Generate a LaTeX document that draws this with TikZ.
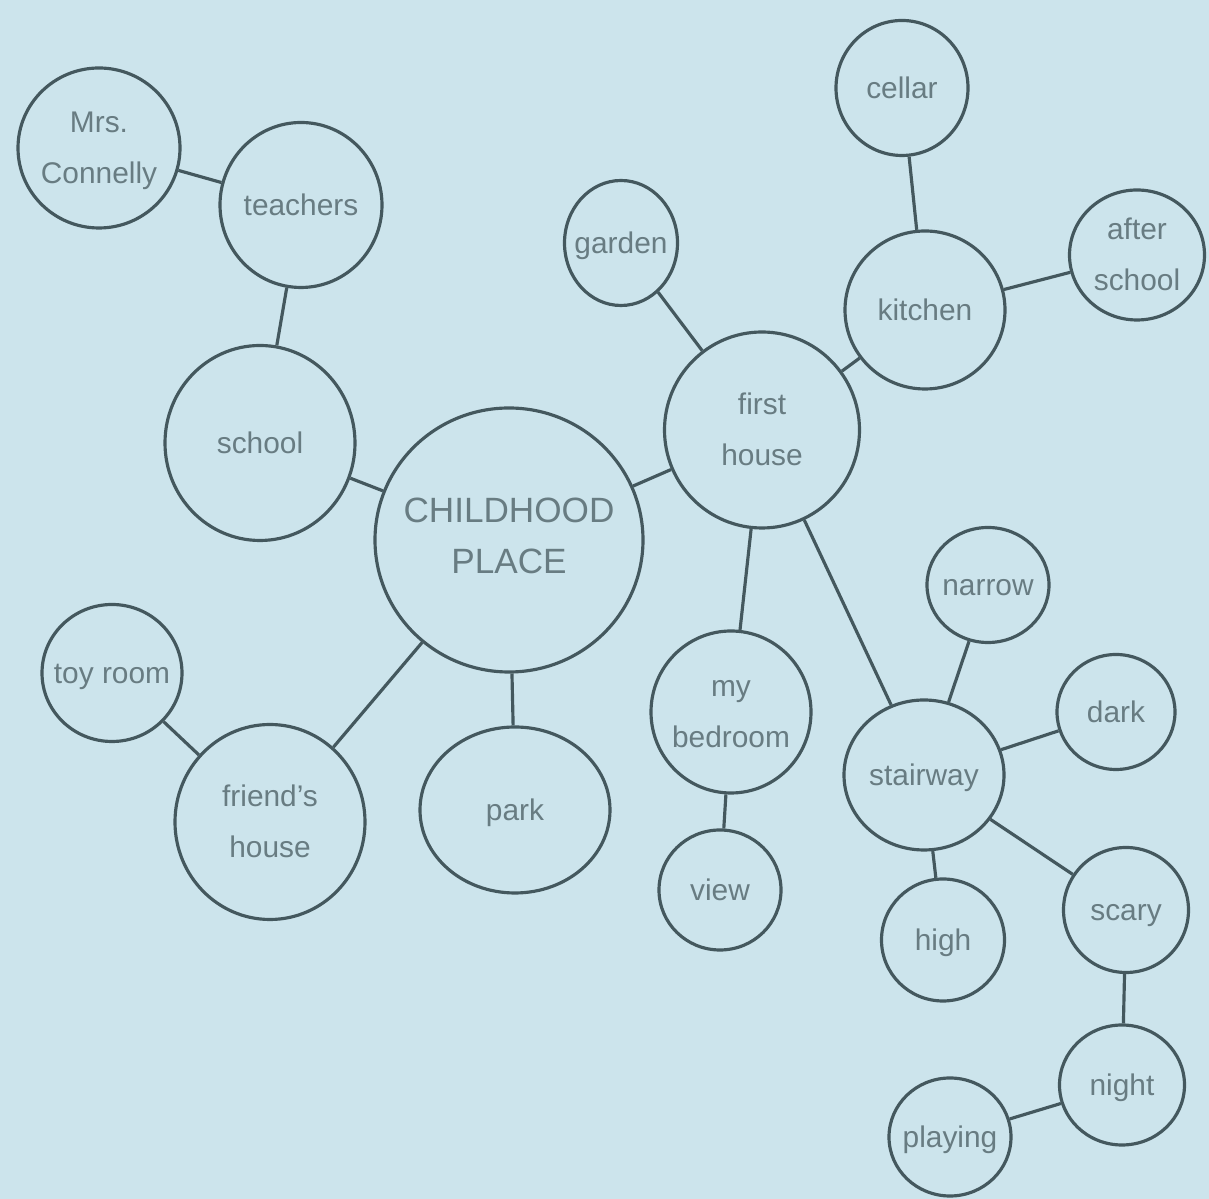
\documentclass[tikz,border=0pt]{standalone}
\usepackage{fontspec}
\setmainfont{Liberation Sans}
\usetikzlibrary{shapes.geometric}
\definecolor{paper}{RGB}{204,228,236}
\definecolor{rim}{RGB}{68,88,94}
\definecolor{inkgray}{RGB}{104,124,130}
% text that does not stretch its bubble
\newcommand{\btext}[1]{\smash{\makebox[0pt]{\raisebox{-2pt}{\begin{tabular}{@{}c@{}}#1\end{tabular}}}}}
\tikzset{
  bubble/.style args={#1/#2}{ellipse,draw=rim,line width=0.9pt,inner sep=0pt,
    minimum width=#1cm,minimum height=#2cm,text=inkgray,
    font=\fontsize{8.5}{14.5}\selectfont},
  link/.style={draw=rim,line width=0.9pt},
}
\begin{document}
\begin{tikzpicture}
  \fill[paper] (0,0) rectangle (12.09,-11.99);
  \useasboundingbox (0,0) rectangle (12.09,-11.99);
  % centre
  \node[bubble=2.68/2.64,font=\fontsize{10}{14.5}\selectfont] (cp) at (5.09,-5.40) {\btext{CHILDHOOD\\PLACE}};
  % left branch
  \node[bubble=1.90/1.95] (school) at (2.60,-4.43) {\btext{school}};
  \node[bubble=1.62/1.65] (teach) at (3.01,-2.05) {\btext{teachers}};
  \node[bubble=1.62/1.60] (mrs) at (0.99,-1.48) {\btext{Mrs.\\Connelly}};
  \node[bubble=1.90/1.95] (friend) at (2.70,-8.22) {\btext{friend's\\house}};
  \node[bubble=1.40/1.37] (toy) at (1.12,-6.73) {\btext{toy room}};
  \node[bubble=1.90/1.66] (park) at (5.15,-8.10) {\btext{park}};
  % first house
  \node[bubble=1.95/1.96] (fhouse) at (7.62,-4.30) {\btext{first\\house}};
  \node[bubble=1.13/1.25] (garden) at (6.21,-2.43) {\btext{garden}};
  \node[bubble=1.60/1.58] (kitchen) at (9.25,-3.10) {\btext{kitchen}};
  \node[bubble=1.32/1.35] (cellar) at (9.02,-0.88) {\btext{cellar}};
  \node[bubble=1.35/1.30] (after) at (11.37,-2.55) {\btext{after\\school}};
  \node[bubble=1.60/1.62] (bed) at (7.31,-7.12) {\btext{my\\bedroom}};
  \node[bubble=1.22/1.20] (view) at (7.20,-8.90) {\btext{view}};
  % stairway
  \node[bubble=1.60/1.50] (stair) at (9.24,-7.75) {\btext{stairway}};
  \node[bubble=1.22/1.15] (narrow) at (9.88,-5.85) {\btext{narrow}};
  \node[bubble=1.18/1.15] (dark) at (11.16,-7.12) {\btext{dark}};
  \node[bubble=1.23/1.22] (high) at (9.43,-9.40) {\btext{high}};
  \node[bubble=1.25/1.25] (scary) at (11.26,-9.10) {\btext{scary}};
  \node[bubble=1.25/1.20] (night) at (11.22,-10.85) {\btext{night}};
  \node[bubble=1.22/1.18] (play) at (9.50,-11.37) {\btext{playing}};
  % links
  \foreach \a/\b in {mrs/teach,teach/school,school/cp,cp/fhouse,cp/friend,cp/park,
    friend/toy,fhouse/garden,fhouse/kitchen,kitchen/cellar,kitchen/after,fhouse/bed,
    bed/view,fhouse/stair,stair/narrow,stair/dark,stair/high,stair/scary,
    scary/night,night/play}
    \draw[link] (\a) -- (\b);
\end{tikzpicture}
\end{document}
